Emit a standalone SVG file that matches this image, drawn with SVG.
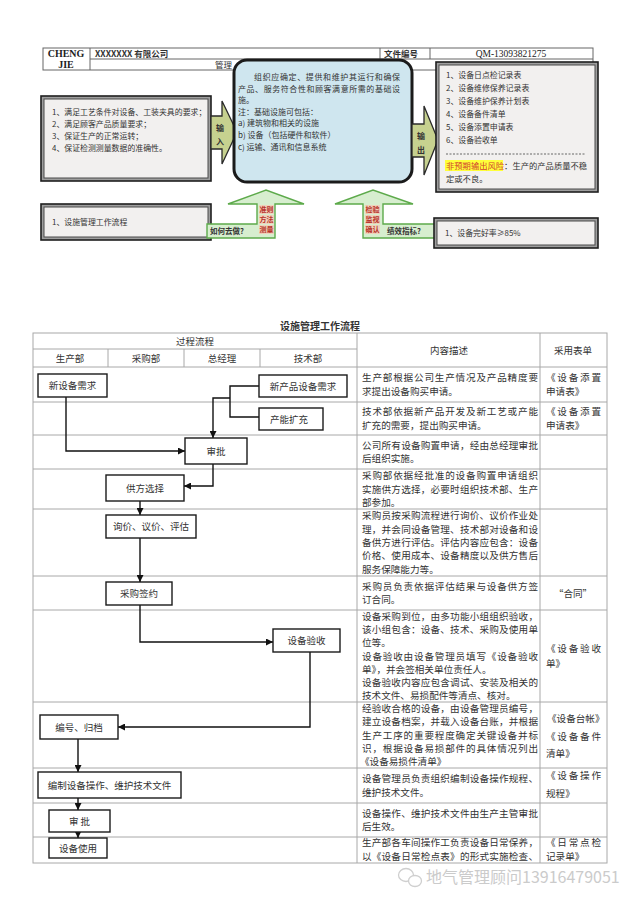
<svg xmlns="http://www.w3.org/2000/svg" width="640" height="905" viewBox="0 0 640 905">
<style>
.cjk{font-family:"Noto Sans CJK SC","Noto Sans",sans-serif;fill:#333}
.ser{font-family:"Liberation Serif","Noto Sans CJK SC",serif;fill:#222}
.hd{stroke:#666;stroke-width:1;fill:none}
.tl{stroke:#a8a8a8;stroke-width:1;fill:none}
.fb{fill:#fff;stroke:#1a1a1a;stroke-width:1.4}
.cn{fill:none;stroke:#111;stroke-width:1.4}
.l8{font-size:7.9px}
.c8{font-size:8px}
.d{font-size:9.6px}
.fl{font-size:9.5px;text-anchor:middle}
.bo{fill:#9e9e9e;stroke:#1e1e1e;stroke-width:1.6}
.bi{fill:#f2f0ef;stroke:#4a4a4a;stroke-width:1}
.gr{fill:#d7eecf;stroke:#5daa4b;stroke-width:1.4}
.rw{font-size:7px;font-weight:bold;fill:#b8332a;text-anchor:middle}
.tan{fill:#efd2bb}
.ol{fill:#c6d18f;stroke:#2a2a2a;stroke-width:1.3}
</style>
<defs>
<marker id="ah" viewBox="0 0 10 10" refX="10" refY="5" markerWidth="7" markerHeight="7" markerUnits="userSpaceOnUse" orient="auto"><path d="M0,0 L10,5 L0,10 z" fill="#111"/></marker>
</defs>
<rect width="640" height="905" fill="#fff"/>

<g id="header">
<rect x="43" y="48" width="550" height="22" class="hd"/>
<line x1="90" y1="48" x2="90" y2="70" class="hd"/>
<line x1="90" y1="59" x2="593" y2="59" class="hd"/>
<line x1="380" y1="48" x2="380" y2="59" class="hd"/>
<line x1="430" y1="48" x2="430" y2="59" class="hd"/>
<text x="66" y="57" class="ser" font-size="10" font-weight="bold" text-anchor="middle">CHENG</text>
<text x="66" y="68" class="ser" font-size="10" font-weight="bold" text-anchor="middle">JIE</text>
<text x="95" y="57" class="cjk" font-size="8.5" font-weight="bold">XXXXXXX 有限公司</text>
<text x="384" y="57" class="cjk" font-size="8.5" font-weight="bold">文件编号</text>
<text x="511" y="57" class="ser" font-size="9.5" text-anchor="middle">QM-13093821275</text>
<text x="215" y="68" class="cjk" font-size="8.5">管理</text>
</g>

<g id="input-box">
<rect x="41" y="96" width="170" height="85" class="bo"/>
<rect x="44" y="99" width="164" height="79" class="bi"/>
<text class="cjk l8" x="52" y="115">1、满足工艺条件对设备、工装夹具的要求；</text>
<text class="cjk l8" x="52" y="127">2、满足顾客产品质量要求；</text>
<text class="cjk l8" x="52" y="139">3、保证生产的正常运转；</text>
<text class="cjk l8" x="52" y="151">4、保证检测测量数据的准确性。</text>
</g>

<g id="input-arrow">
<polygon points="211,116 222,116 222,101 237,132 222,164 222,149 211,149" class="ol"/>
<text class="cjk" x="220" y="131" font-size="8" font-weight="bold" text-anchor="middle">输</text>
<text class="cjk" x="220" y="145" font-size="8" font-weight="bold" text-anchor="middle">入</text>
</g>

<g id="center-box">
<rect x="234" y="60" width="178" height="122" rx="13" fill="#cfe6ef" stroke="#1b1b1b" stroke-width="3"/>
<text class="cjk c8" x="254" y="80" textLength="146" lengthAdjust="spacing">组织应确定、提供和维护其运行和确保</text>
<text class="cjk c8" x="238" y="91.6" textLength="162" lengthAdjust="spacing">产品、服务符合性和顾客满意所需的基础设</text>
<text class="cjk c8" x="238" y="103.2">施。</text>
<text class="cjk c8" x="238" y="114.8">注：基础设施可包括：</text>
<text class="cjk c8" x="238" y="126.4">a) 建筑物和相关的设施</text>
<text class="cjk c8" x="238" y="138">b) 设备（包括硬件和软件）</text>
<text class="cjk c8" x="238" y="149.6">c) 运输、通讯和信息系统</text>
</g>

<g id="output-arrow">
<polygon points="412,124 424,124 424,106 438,140 424,175 424,157 412,157" class="ol"/>
<text class="cjk" x="421" y="139" font-size="8" font-weight="bold" text-anchor="middle">输</text>
<text class="cjk" x="421" y="153" font-size="8" font-weight="bold" text-anchor="middle">出</text>
</g>

<g id="output-box">
<rect x="436" y="62" width="162" height="130" class="bo"/>
<rect x="439" y="65" width="156" height="124" class="bi"/>
<text class="cjk l8" x="446" y="78">1、设备日点检记录表</text>
<text class="cjk l8" x="446" y="91">2、设备维修保养记录表</text>
<text class="cjk l8" x="446" y="104">3、设备维护保养计划表</text>
<text class="cjk l8" x="446" y="117">4、设备备件清单</text>
<text class="cjk l8" x="446" y="130">5、设备添置申请表</text>
<text class="cjk l8" x="446" y="143">6、设备验收单</text>
<line x1="446" y1="154" x2="586" y2="154" stroke="#444" stroke-width="0.8" stroke-dasharray="2,1.5"/>
<rect x="445" y="160" width="58" height="11" fill="#ffff3a"/>
<text class="cjk" font-size="8.3" x="446" y="169"><tspan fill="#d0402f">非预期输出风险</tspan>：生产的产品质量不稳</text>
<text class="cjk" font-size="8.3" x="446" y="182">定或不良。</text>
</g>

<g id="resource-box">
<rect x="41" y="204" width="170" height="36" class="bo"/>
<rect x="44" y="207" width="164" height="30" class="bi"/>
<text class="cjk l8" x="52" y="225">1、设施管理工作流程</text>
</g>

<g id="how-arrow">
<polygon points="207,224 257,224 257,204 228,204 266,190 304,204 275,204 275,238 207,238" class="gr"/>
<text class="cjk" x="210" y="234" font-size="7.5" font-weight="bold" fill="#1f3a1f">如何去做?</text>
<rect x="259" y="205" width="15" height="9" class="tan"/>
<rect x="259" y="215" width="15" height="9" class="tan"/>
<rect x="259" y="225" width="15" height="9" class="tan"/>
<text class="cjk rw" x="266.5" y="212">准则</text>
<text class="cjk rw" x="266.5" y="222">方法</text>
<text class="cjk rw" x="266.5" y="232">测量</text>
</g>

<g id="kpi-arrow">
<polygon points="363,238 363,204 335,204 373,190 413,204 383,204 383,224 435,224 435,238" class="gr"/>
<text class="cjk" x="387" y="234" font-size="7.5" font-weight="bold" fill="#1f3a1f">绩效指标?</text>
<rect x="365" y="205" width="15" height="9" class="tan"/>
<rect x="365" y="215" width="15" height="9" class="tan"/>
<rect x="365" y="225" width="15" height="9" class="tan"/>
<text class="cjk rw" x="372.5" y="212">检验</text>
<text class="cjk rw" x="372.5" y="222">监视</text>
<text class="cjk rw" x="372.5" y="232">确认</text>
</g>

<g id="kpi-box">
<rect x="434" y="218" width="164" height="30" class="bo"/>
<rect x="437" y="221" width="158" height="24" class="bi"/>
<text class="cjk l8" x="445" y="236">1、设备完好率≥85%</text>
</g>

<g id="table">
<text class="cjk" x="320" y="330" font-size="10" font-weight="bold" text-anchor="middle" fill="#111">设施管理工作流程</text>
<rect x="33" y="333" width="574" height="530" class="tl"/>
<line x1="357" y1="333" x2="357" y2="863" class="tl"/>
<line x1="540" y1="333" x2="540" y2="863" class="tl"/>
<line x1="33" y1="349" x2="357" y2="349" class="tl"/>
<line x1="108" y1="349" x2="108" y2="367" class="tl"/>
<line x1="184" y1="349" x2="184" y2="367" class="tl"/>
<line x1="260" y1="349" x2="260" y2="367" class="tl"/>
<line x1="33" y1="367" x2="607" y2="367" class="tl"/>
<line x1="33" y1="402" x2="607" y2="402" class="tl"/>
<line x1="33" y1="435" x2="607" y2="435" class="tl"/>
<line x1="33" y1="469" x2="607" y2="469" class="tl"/>
<line x1="33" y1="509" x2="607" y2="509" class="tl"/>
<line x1="33" y1="576" x2="607" y2="576" class="tl"/>
<line x1="33" y1="610" x2="607" y2="610" class="tl"/>
<line x1="33" y1="702" x2="607" y2="702" class="tl"/>
<line x1="33" y1="768" x2="607" y2="768" class="tl"/>
<line x1="33" y1="803" x2="607" y2="803" class="tl"/>
<line x1="33" y1="837" x2="607" y2="837" class="tl"/>
<text class="cjk" font-size="9.5" x="195" y="344.5" text-anchor="middle">过程流程</text>
<text class="cjk" font-size="9.5" x="70" y="361.5" text-anchor="middle">生产部</text>
<text class="cjk" font-size="9.5" x="146" y="361.5" text-anchor="middle">采购部</text>
<text class="cjk" font-size="9.5" x="222" y="361.5" text-anchor="middle">总经理</text>
<text class="cjk" font-size="9.5" x="308" y="361.5" text-anchor="middle">技术部</text>
<text class="cjk" font-size="9.5" x="449" y="353.5" text-anchor="middle">内容描述</text>
<text class="cjk" font-size="9.5" x="573" y="353.5" text-anchor="middle">采用表单</text>

<g class="cjk d">
<text x="362" y="381.4" textLength="176" lengthAdjust="spacing">生产部根据公司生产情况及产品精度要</text>
<text x="362" y="394.7">求提出设备购买申请。</text>
<text x="362" y="415.4" textLength="176" lengthAdjust="spacing">技术部依据新产品开发及新工艺或产能</text>
<text x="362" y="428.7">扩充的需要，提出购买申请。</text>
<text x="362" y="448.9" textLength="176" lengthAdjust="spacing">公司所有设备购置申请，经由总经理审批</text>
<text x="362" y="462.2">后组织实施。</text>
<text x="362" y="479.2" textLength="176" lengthAdjust="spacing">采购部依据经批准的设备购置申请组织</text>
<text x="362" y="492.5" textLength="176" lengthAdjust="spacing">实施供方选择，必要时组织技术部、生产</text>
<text x="362" y="505.8">部参加。</text>
<text x="362" y="519.4" textLength="176" lengthAdjust="spacing">采购员按采购流程进行询价、议价作业处</text>
<text x="362" y="532.7" textLength="176" lengthAdjust="spacing">理，并会同设备管理、技术部对设备和设</text>
<text x="362" y="546" textLength="176" lengthAdjust="spacing">备供方进行评估。评估内容应包含：设备</text>
<text x="362" y="559.3" textLength="176" lengthAdjust="spacing">价格、使用成本、设备精度以及供方售后</text>
<text x="362" y="572.6">服务保障能力等。</text>
<text x="362" y="589.9" textLength="176" lengthAdjust="spacing">采购员负责依据评估结果与设备供方签</text>
<text x="362" y="603.2">订合同。</text>
<text x="362" y="619.6" textLength="176" lengthAdjust="spacing">设备采购到位，由多功能小组组织验收，</text>
<text x="362" y="632.9" textLength="176" lengthAdjust="spacing">该小组包含：设备、技术、采购及使用单</text>
<text x="362" y="646.2">位等。</text>
<text x="362" y="659.5" textLength="176" lengthAdjust="spacing">设备验收由设备管理员填写《设备验收</text>
<text x="362" y="672.8">单》，并会签相关单位责任人。</text>
<text x="362" y="686.1" textLength="176" lengthAdjust="spacing">设备验收内容应包含调试、安装及相关的</text>
<text x="362" y="699.4">技术文件、易损配件等清点、核对。</text>
<text x="362" y="711.9" textLength="176" lengthAdjust="spacing">经验收合格的设备，由设备管理员编号，</text>
<text x="362" y="725.2" textLength="176" lengthAdjust="spacing">建立设备档案，并载入设备台账，并根据</text>
<text x="362" y="738.5" textLength="176" lengthAdjust="spacing">生产工序的重要程度确定关键设备并标</text>
<text x="362" y="751.8" textLength="176" lengthAdjust="spacing">识，根据设备易损部件的具体情况列出</text>
<text x="360" y="765.1">《设备易损件清单》</text>
<text x="362" y="782.4" textLength="176" lengthAdjust="spacing">设备管理员负责组织编制设备操作规程、</text>
<text x="362" y="795.7">维护技术文件。</text>
<text x="362" y="816.9" textLength="176" lengthAdjust="spacing">设备操作、维护技术文件由生产主管审批</text>
<text x="362" y="830.2">后生效。</text>
<text x="362" y="846.2" textLength="176" lengthAdjust="spacing">生产部各车间操作工负责设备日常保养，</text>
<text x="362" y="859.6" textLength="176" lengthAdjust="spacing">以《设备日常检点表》的形式实施检查、</text>

<text x="546" y="381.4" textLength="55" lengthAdjust="spacing">《设备添置</text>
<text x="546" y="394.7">申请表》</text>
<text x="546" y="415.4" textLength="55" lengthAdjust="spacing">《设备添置</text>
<text x="546" y="428.7">申请表》</text>
<text x="573" y="596.5" text-anchor="middle">“合同”</text>
<text x="546" y="651.5" textLength="55" lengthAdjust="spacing">《设备验收</text>
<text x="546" y="666.5">单》</text>
<text x="547" y="721.5">《设备台帐》</text>
<text x="546" y="739.5" textLength="55" lengthAdjust="spacing">《设备备件</text>
<text x="546" y="756.5">清单》</text>
<text x="546" y="778.5" textLength="55" lengthAdjust="spacing">《设备操作</text>
<text x="546" y="796.5">规程》</text>
<text x="546" y="846.2" textLength="55" lengthAdjust="spacing">《日常点检</text>
<text x="546" y="859.6">记录单》</text>
</g>
</g>

<g id="connectors">
<polyline points="66,397 66,451 185,451" class="cn" marker-end="url(#ah)"/>
<polyline points="259,386 230,386 230,417 259,417" class="cn"/>
<polyline points="230,398 213,398 213,438" class="cn" marker-end="url(#ah)"/>
<polyline points="213,464 213,486 184,486" class="cn" marker-end="url(#ah)"/>
<line x1="140" y1="501" x2="140" y2="515" class="cn" marker-end="url(#ah)"/>
<line x1="140" y1="538" x2="140" y2="582" class="cn" marker-end="url(#ah)"/>
<polyline points="140,605 140,642 273,642" class="cn" marker-end="url(#ah)"/>
<polyline points="310,652 310,727 118,727" class="cn" marker-end="url(#ah)"/>
<line x1="78" y1="739" x2="78" y2="772" class="cn" marker-end="url(#ah)"/>
<line x1="78" y1="798" x2="78" y2="810" class="cn" marker-end="url(#ah)"/>
<line x1="78" y1="832" x2="78" y2="838" class="cn" marker-end="url(#ah)"/>
</g>

<g id="n-new-equip"><rect x="38" y="374" width="69" height="23" class="fb"/><text class="cjk fl" x="72.5" y="389">新设备需求</text></g>
<g id="n-new-product"><rect x="259" y="375" width="88" height="22" class="fb"/><text class="cjk fl" x="303" y="389.5">新产品设备需求</text></g>
<g id="n-capacity"><rect x="259" y="408" width="64" height="22" class="fb"/><text class="cjk fl" x="289" y="422.5">产能扩充</text></g>
<g id="n-approve"><rect x="185" y="438" width="62" height="26" class="fb"/><text class="cjk fl" x="216" y="454.5">审批</text></g>
<g id="n-supplier"><rect x="106" y="475" width="78" height="26" class="fb"/><text class="cjk fl" x="145" y="491.5">供方选择</text></g>
<g id="n-inquiry"><rect x="106" y="515" width="90" height="23" class="fb"/><text class="cjk fl" x="151" y="530">询价、议价、评估</text></g>
<g id="n-contract"><rect x="106" y="582" width="66" height="23" class="fb"/><text class="cjk fl" x="139" y="597">采购签约</text></g>
<g id="n-accept"><rect x="273" y="629" width="67" height="23" class="fb"/><text class="cjk fl" x="306.5" y="644">设备验收</text></g>
<g id="n-archive"><rect x="40" y="715" width="78" height="24" class="fb"/><text class="cjk fl" x="79" y="730.5">编号、归档</text></g>
<g id="n-docs"><rect x="38" y="772" width="143" height="26" class="fb"/><text class="cjk fl" x="109.5" y="788.5">编制设备操作、维护技术文件</text></g>
<g id="n-approve2"><rect x="49" y="810" width="61" height="22" class="fb"/><text class="cjk fl" x="79.5" y="824.5">审 批</text></g>
<g id="n-use"><rect x="49" y="838" width="58" height="20" class="fb"/><text class="cjk fl" x="78" y="851.5">设备使用</text></g>

<g id="watermark" fill="none" stroke="#cfcfcf" stroke-width="1.3">
<ellipse cx="406" cy="875" rx="7.5" ry="6.5"/>
<ellipse cx="415" cy="881" rx="6.5" ry="5.5" fill="#fff"/>
<text x="426" y="883" font-family="'Noto Sans CJK SC',sans-serif" font-size="16" fill="#cbcbcb" stroke="none">地气管理顾问13916479051</text>
</g>
</svg>
